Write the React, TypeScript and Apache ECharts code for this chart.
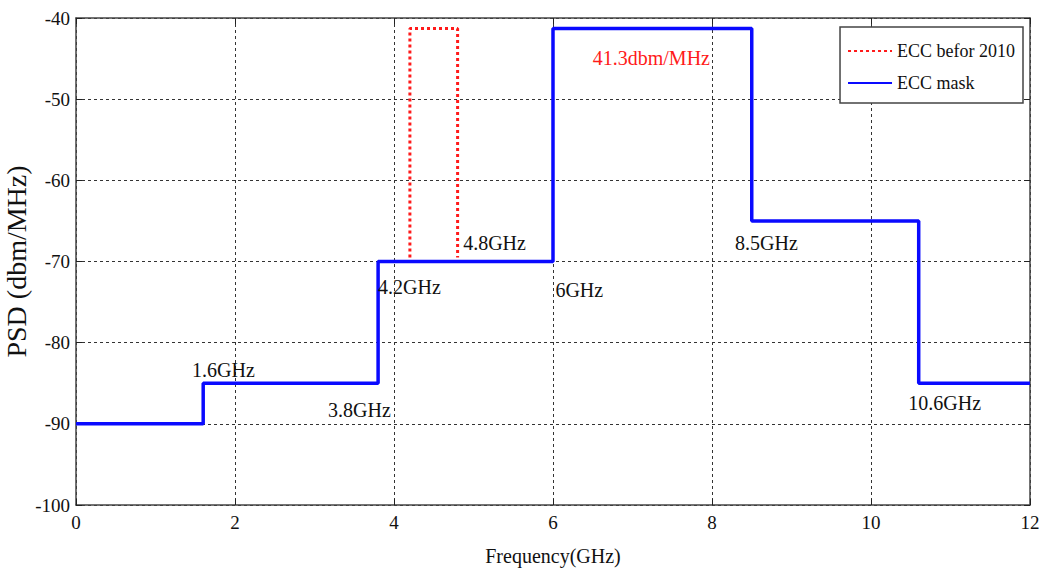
import React, { useEffect, useRef } from "react";
import * as echarts from "echarts";

const maskFreq = [0, 1.6, 1.6, 3.8, 3.8, 6, 6, 8.5, 8.5, 10.6, 10.6, 12];
const maskPsd = [-90, -90, -85, -85, -70, -70, -41.3, -41.3, -65, -65, -85, -85];
const oldFreq = [4.2, 4.2, 4.8, 4.8];
const oldPsd = [-69.5, -41.3, -41.3, -69.5];
const xTicks = [0, 2, 4, 6, 8, 10, 12];
const yTicks = [-100, -90, -80, -70, -60, -50, -40];

const annotations: { text: string; x: number; y: number; color: string }[] = [
  { text: "1.6GHz", x: 1.46, y: -83.4, color: "#111" },
  { text: "3.8GHz", x: 3.17, y: -88.3, color: "#111" },
  { text: "4.2GHz", x: 3.8, y: -73.2, color: "#111" },
  { text: "4.8GHz", x: 4.87, y: -67.7, color: "#111" },
  { text: "6GHz", x: 6.03, y: -73.5, color: "#111" },
  { text: "41.3dbm/MHz", x: 6.5, y: -44.9, color: "#ff1a1a" },
  { text: "8.5GHz", x: 8.29, y: -67.7, color: "#111" },
  { text: "10.6GHz", x: 10.47, y: -87.4, color: "#111" },
];

const FONT = "'Liberation Serif', 'Times New Roman', serif";

export default function App() {
  const ref = useRef<HTMLDivElement>(null);
  useEffect(() => {
    if (!ref.current) return;
    const chart = echarts.init(ref.current, undefined, { renderer: "svg" });
    const xMin = xTicks[0];
    const xMax = xTicks[xTicks.length - 1];
    const yMin = yTicks[0];
    const yMax = yTicks[yTicks.length - 1];
    const axisCommon = {
      axisLine: { show: true, onZero: false, lineStyle: { color: "#444", width: 1.5 } },
      axisTick: { show: true, inside: true, length: 6, lineStyle: { color: "#222" } },
    };
    chart.setOption({
      animation: false,
      backgroundColor: "#fff",
      textStyle: { fontFamily: FONT },
      grid: {
        left: 76,
        right: 11,
        top: 18,
        bottom: 69,
        show: false,
        containLabel: false,
        outerBoundsMode: "none",
      },
      legend: {
        orient: "vertical",
        right: 18,
        top: 27,
        padding: [15, 8, 11, 7],
        itemGap: 14,
        itemWidth: 44,
        itemHeight: 14,
        backgroundColor: "#fff",
        borderColor: "#444",
        borderWidth: 1.5,
        borderRadius: 0,
        itemStyle: { opacity: 0 },
        textStyle: { fontFamily: FONT, fontSize: 18, color: "#111" },
        data: ["ECC befor 2010", "ECC mask"],
      },
      xAxis: [
        {
          type: "value",
          min: xMin,
          max: xMax,
          interval: 2,
          name: "Frequency(GHz)",
          nameLocation: "middle",
          nameGap: 41,
          nameMoveOverlap: false,
          nameTextStyle: { fontFamily: FONT, fontSize: 20, color: "#111" },
          axisLabel: { fontFamily: FONT, fontSize: 19, color: "#111", margin: 8 },
          splitLine: { show: true, lineStyle: { color: "#333", type: [3, 3], width: 1 } },
          ...axisCommon,
        },
        {
          type: "value",
          position: "top",
          min: xMin,
          max: xMax,
          interval: 2,
          axisLabel: { show: false },
          splitLine: { show: false },
          ...axisCommon,
        },
      ],
      yAxis: [
        {
          type: "value",
          min: yMin,
          max: yMax,
          interval: 10,
          name: "PSD (dbm/MHz)",
          nameLocation: "middle",
          nameGap: 46,
          nameMoveOverlap: false,
          nameTextStyle: { fontFamily: FONT, fontSize: 28, color: "#111" },
          axisLabel: { fontFamily: FONT, fontSize: 19, color: "#111", margin: 6 },
          splitLine: { show: true, lineStyle: { color: "#333", type: [3, 3], width: 1 } },
          ...axisCommon,
        },
        {
          type: "value",
          position: "right",
          min: yMin,
          max: yMax,
          interval: 10,
          axisLabel: { show: false },
          splitLine: { show: false },
          ...axisCommon,
        },
      ],
      series: [
        {
          name: "ECC befor 2010",
          type: "line",
          symbol: "none",
          data: oldFreq.map((f, i) => [f, oldPsd[i]]),
          lineStyle: { color: "#ff1a1a", width: 3, type: [3, 3] },
          itemStyle: { color: "#ff1a1a" },
          z: 3,
        },
        {
          name: "ECC mask",
          type: "line",
          symbol: "none",
          data: maskFreq.map((f, i) => [f, maskPsd[i]]),
          lineStyle: { color: "#0a0aff", width: 3.5 },
          itemStyle: { color: "#0a0aff" },
          z: 4,
        },
      ],
    });
    const graphics = annotations.map((a) => {
      const p = chart.convertToPixel({ gridIndex: 0 }, [a.x, a.y]) as number[];
      return {
        type: "text",
        x: p[0],
        y: p[1],
        style: {
          text: a.text,
          fontFamily: FONT,
          fontSize: 20,
          fill: a.color,
          verticalAlign: "middle",
          textVerticalAlign: "middle",
        },
        z: 10,
      };
    });
    chart.setOption({ graphic: graphics });
    return () => chart.dispose();
  }, []);
  return (
    <div
      ref={ref}
      style={{ position: "absolute", left: 0, top: 0, width: 1041, height: 574 }}
    />
  );
}
